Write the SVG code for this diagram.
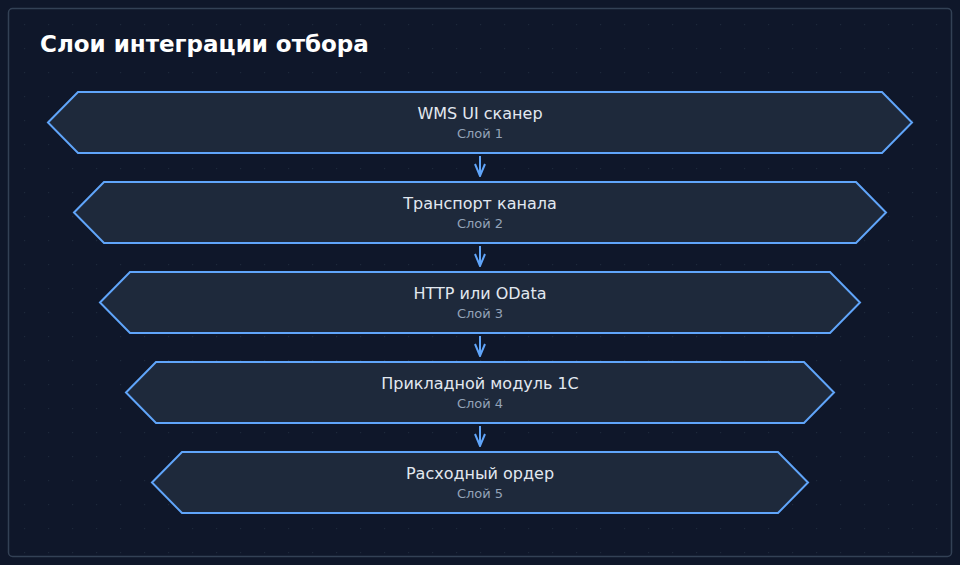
<svg xmlns="http://www.w3.org/2000/svg" width="960" height="565" viewBox="0 0 960 565">
<defs>
<pattern id="dots" x="0" y="0" width="24" height="24" patternUnits="userSpaceOnUse">
<circle cx="0.5" cy="0.5" r="0.7" fill="#1e293b"/>
</pattern>
<marker id="arr" viewBox="0 0 14 12" refX="13" refY="6" markerWidth="14" markerHeight="12" markerUnits="userSpaceOnUse" orient="auto">
<path d="M1,1 L13,6 L1,11" fill="none" stroke="#60a5fa" stroke-width="2"/>
</marker>
<style>
.node{fill:#1e293b;stroke:#60a5fa;stroke-width:2}
.lbl{font-family:"DejaVu Sans",Verdana,sans-serif;font-size:16px;fill:#e2e8f0;text-anchor:middle}
.sub{font-family:"DejaVu Sans",Verdana,sans-serif;font-size:13px;fill:#94a3b8;text-anchor:middle}
.edge{stroke:#60a5fa;stroke-width:2;fill:none}
</style>
</defs>
<rect width="960" height="565" fill="#0f172a"/>
<rect x="8.5" y="8.5" width="943" height="548" rx="4" fill="#0f172a" stroke="#334155" stroke-width="1.5"/>
<rect x="9" y="9" width="942" height="547" fill="url(#dots)"/>
<text x="40" y="52" font-family="'DejaVu Sans',Verdana,sans-serif" font-size="23" font-weight="bold" fill="#ffffff">Слои интеграции отбора</text>
<g id="connectors">
<line class="edge" x1="480" y1="156" x2="480" y2="176" marker-end="url(#arr)"/>
<line class="edge" x1="480" y1="246" x2="480" y2="266" marker-end="url(#arr)"/>
<line class="edge" x1="480" y1="336" x2="480" y2="356" marker-end="url(#arr)"/>
<line class="edge" x1="480" y1="426" x2="480" y2="446" marker-end="url(#arr)"/>
</g>
<g id="node1">
<polygon class="node" points="48,122.5 78,92 882,92 912,122.5 882,153 78,153"/>
<text class="lbl" x="480" y="119">WMS UI сканер</text>
<text class="sub" x="480" y="138">Слой 1</text>
</g>
<g id="node2">
<polygon class="node" points="74,212.5 104,182 856,182 886,212.5 856,243 104,243"/>
<text class="lbl" x="480" y="209">Транспорт канала</text>
<text class="sub" x="480" y="228">Слой 2</text>
</g>
<g id="node3">
<polygon class="node" points="100,302.5 130,272 830,272 860,302.5 830,333 130,333"/>
<text class="lbl" x="480" y="299">HTTP или OData</text>
<text class="sub" x="480" y="318">Слой 3</text>
</g>
<g id="node4">
<polygon class="node" points="126,392.5 156,362 804,362 834,392.5 804,423 156,423"/>
<text class="lbl" x="480" y="389">Прикладной модуль 1С</text>
<text class="sub" x="480" y="408">Слой 4</text>
</g>
<g id="node5">
<polygon class="node" points="152,482.5 182,452 778,452 808,482.5 778,513 182,513"/>
<text class="lbl" x="480" y="479">Расходный ордер</text>
<text class="sub" x="480" y="498">Слой 5</text>
</g>
</svg>
